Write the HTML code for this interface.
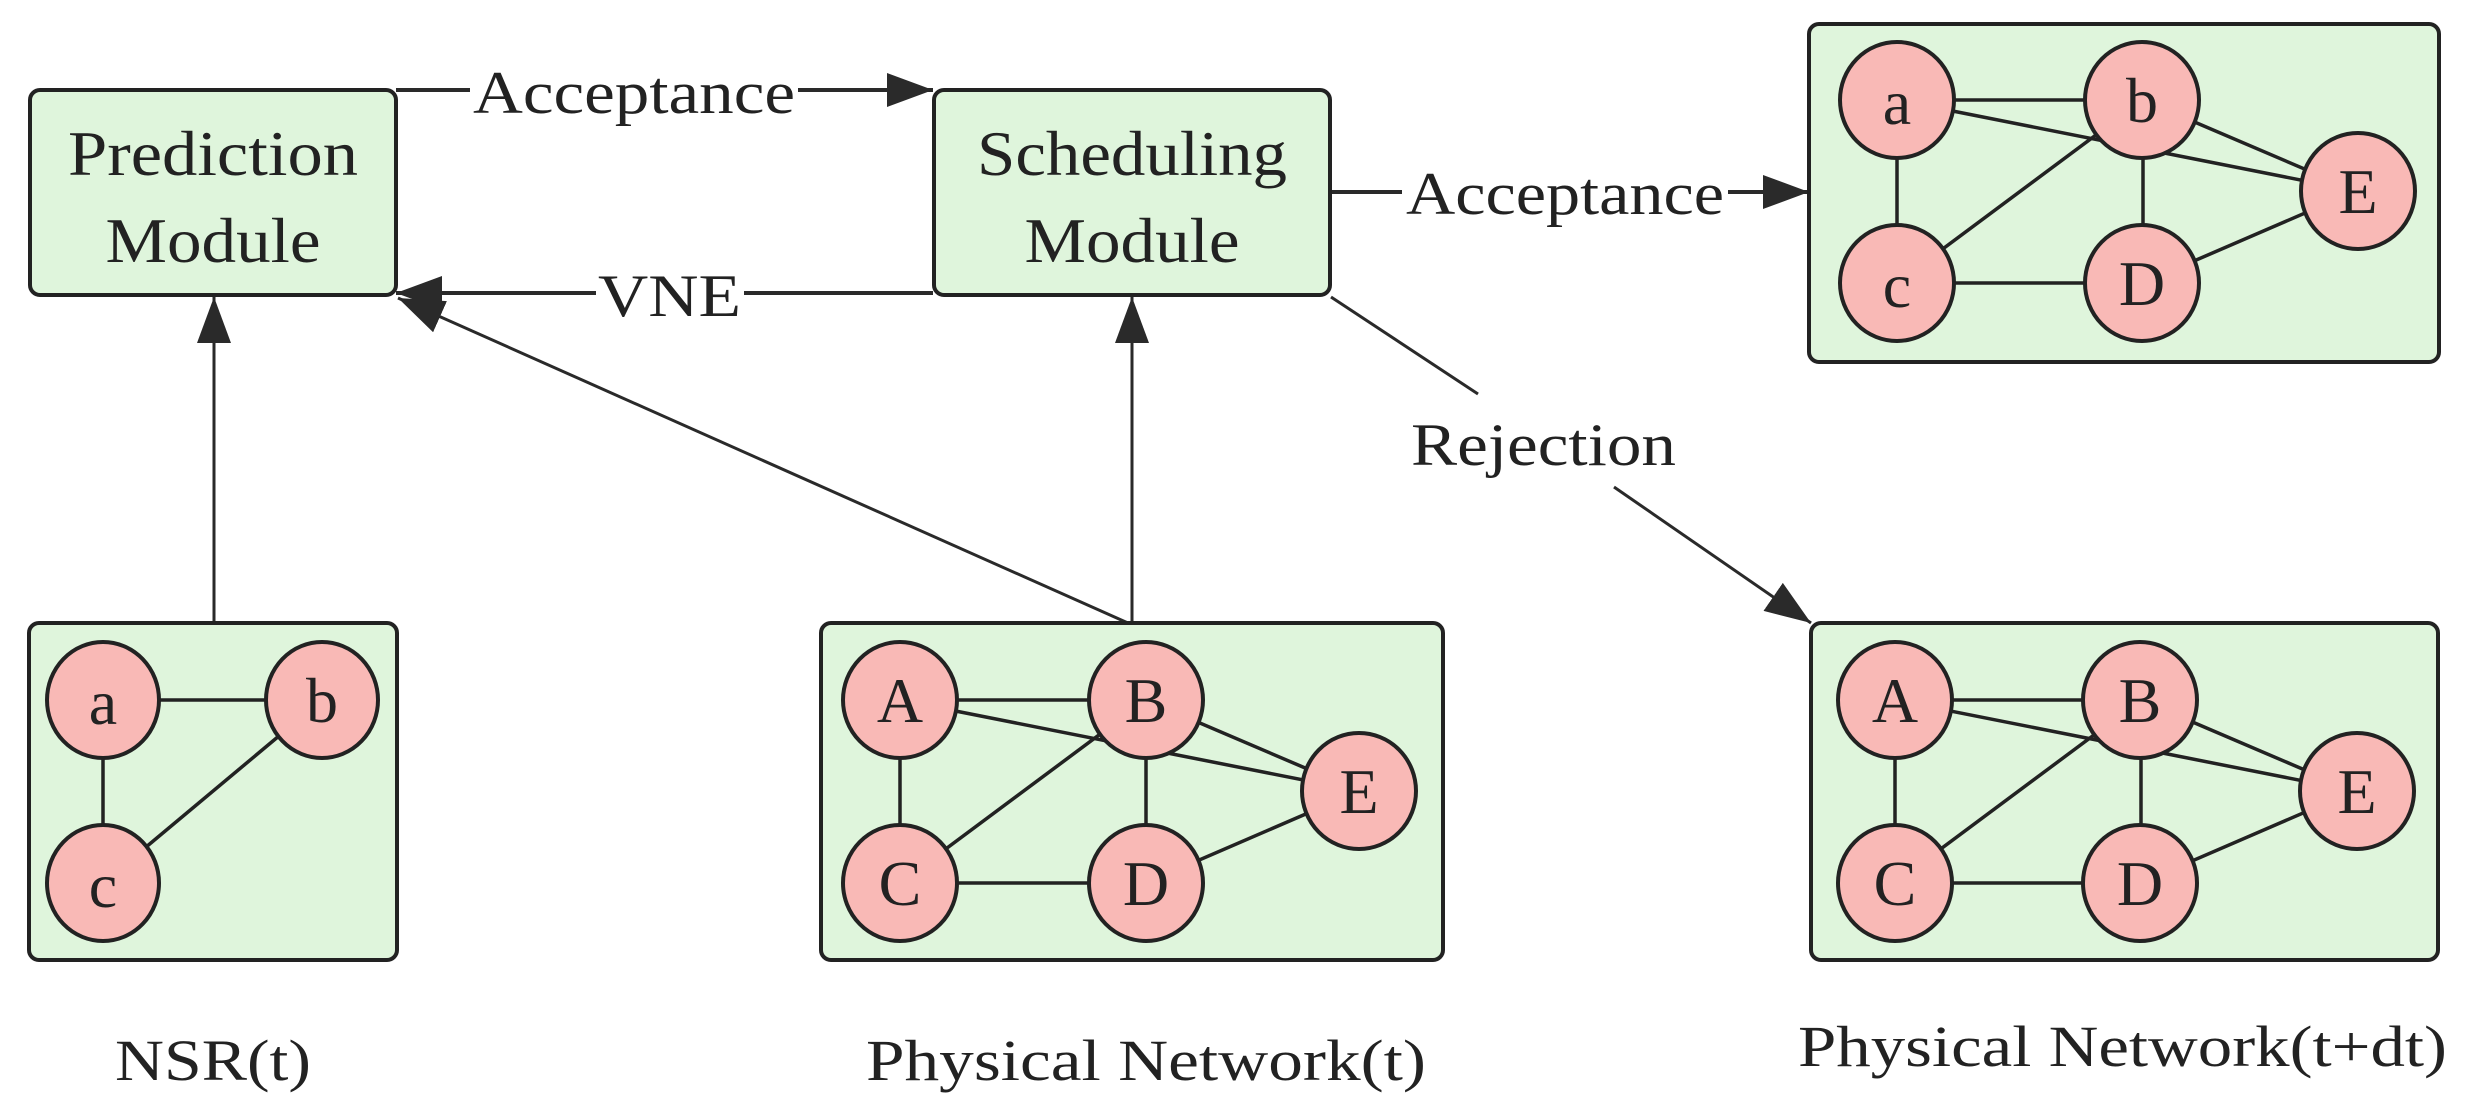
<!DOCTYPE html>
<html><head><style>body{margin:0;background:#fff}svg{display:block}</style></head><body>
<svg width="2465" height="1111" viewBox="0 0 2465 1111" xmlns="http://www.w3.org/2000/svg" font-family="'Liberation Serif', serif" style="font-family:'Liberation Serif', serif" fill="#222">
<defs>
<marker id="ab" viewBox="0 0 10 10" refX="10" refY="5" markerWidth="46" markerHeight="34" orient="auto" markerUnits="userSpaceOnUse" preserveAspectRatio="none"><path d="M0,0 L10,5 L0,10 z" fill="#2a2a2a"/></marker></defs>
<g stroke="#2a2a2a" stroke-width="4" fill="none">
<line x1="396" y1="90" x2="933" y2="90" marker-end="url(#ab)"/>
<line x1="933" y1="293" x2="396" y2="293" marker-end="url(#ab)"/>
<line x1="1128" y1="623" x2="398" y2="298" marker-end="url(#ab)" stroke-width="3"/>
<line x1="214" y1="623" x2="214" y2="297" marker-end="url(#ab)" stroke-width="3"/>
<line x1="1132" y1="623" x2="1132" y2="297" marker-end="url(#ab)" stroke-width="3"/>
<line x1="1331" y1="192" x2="1809" y2="192" marker-end="url(#ab)"/>
<line x1="1331" y1="297" x2="1478" y2="394" stroke-width="3"/>
<line x1="1614" y1="487" x2="1811" y2="623" marker-end="url(#ab)" stroke-width="3"/>
</g>
<rect x="470" y="66" width="328" height="48" fill="#fff"/>
<rect x="596" y="270" width="148" height="48" fill="#fff"/>
<rect x="1402" y="168" width="326" height="48" fill="#fff"/>
<text x="473" y="113" font-size="60" textLength="322" lengthAdjust="spacingAndGlyphs">Acceptance</text>
<text x="598" y="316" font-size="60" textLength="143" lengthAdjust="spacingAndGlyphs">VNE</text>
<text x="1406" y="214" font-size="60" textLength="318" lengthAdjust="spacingAndGlyphs">Acceptance</text>
<text x="1411" y="465" font-size="60" textLength="265" lengthAdjust="spacingAndGlyphs">Rejection</text>
<g stroke="#222" stroke-width="4" fill="#dff5dc">
<rect x="30" y="90" width="366" height="205" rx="10"/>
<rect x="934" y="90" width="396" height="205" rx="10"/>
<rect x="29" y="623" width="368" height="337" rx="10"/>
<rect x="821" y="623" width="622" height="337" rx="10"/>
<rect x="1809" y="24" width="630" height="338" rx="10"/>
<rect x="1811" y="623" width="627" height="337" rx="10"/>
</g>
<g font-size="64" text-anchor="middle">
<text x="213" y="175" textLength="290" lengthAdjust="spacingAndGlyphs">Prediction</text>
<text x="213" y="262" textLength="215" lengthAdjust="spacingAndGlyphs">Module</text>
<text x="1132" y="175" textLength="310" lengthAdjust="spacingAndGlyphs">Scheduling</text>
<text x="1132" y="262" textLength="215" lengthAdjust="spacingAndGlyphs">Module</text>
</g>
<g stroke="#222" stroke-width="3.5">
<line x1="103" y1="700" x2="322" y2="700"/><line x1="103" y1="700" x2="103" y2="883"/><line x1="103" y1="883" x2="322" y2="700"/>
<g id="pn">
<line x1="900" y1="700" x2="1146" y2="700"/><line x1="900" y1="700" x2="900" y2="883"/><line x1="900" y1="883" x2="1146" y2="883"/>
<line x1="1146" y1="700" x2="1146" y2="883"/><line x1="900" y1="883" x2="1146" y2="700"/><line x1="900" y1="700" x2="1359" y2="791"/>
<line x1="1146" y1="700" x2="1359" y2="791"/><line x1="1146" y1="883" x2="1359" y2="791"/>
</g>
<use href="#pn" transform="translate(995,0)"/>
<use href="#pn" transform="translate(997,-600)"/>
</g>
<g stroke="#222" stroke-width="4" fill="#f9b9b6">
<ellipse cx="103" cy="700" rx="56" ry="58"/><ellipse cx="322" cy="700" rx="56" ry="58"/><ellipse cx="103" cy="883" rx="56" ry="58"/>
<ellipse cx="900" cy="700" rx="57" ry="58"/><ellipse cx="1146" cy="700" rx="57" ry="58"/><ellipse cx="900" cy="883" rx="57" ry="58"/><ellipse cx="1146" cy="883" rx="57" ry="58"/><ellipse cx="1359" cy="791" rx="57" ry="58"/>
<ellipse cx="1895" cy="700" rx="57" ry="58"/><ellipse cx="2140" cy="700" rx="57" ry="58"/><ellipse cx="1895" cy="883" rx="57" ry="58"/><ellipse cx="2140" cy="883" rx="57" ry="58"/><ellipse cx="2357" cy="791" rx="57" ry="58"/>
<ellipse cx="1897" cy="100" rx="57" ry="58"/><ellipse cx="2142" cy="100" rx="57" ry="58"/><ellipse cx="1897" cy="283" rx="57" ry="58"/><ellipse cx="2142" cy="283" rx="57" ry="58"/><ellipse cx="2358" cy="191" rx="57" ry="58"/>
</g>
<g font-size="64" text-anchor="middle">
<text x="103" y="724">a</text><text x="322" y="722">b</text><text x="103" y="907">c</text>
<text x="900" y="722">A</text><text x="1146" y="722">B</text><text x="900" y="905">C</text><text x="1146" y="905">D</text><text x="1359" y="813">E</text>
<text x="1895" y="722">A</text><text x="2140" y="722">B</text><text x="1895" y="905">C</text><text x="2140" y="905">D</text><text x="2357" y="813">E</text>
<text x="1897" y="124">a</text><text x="2142" y="122">b</text><text x="1897" y="307">c</text><text x="2142" y="305">D</text><text x="2358" y="213">E</text>
</g>
<g font-size="58">
<text x="115" y="1080" textLength="196" lengthAdjust="spacingAndGlyphs">NSR(t)</text>
<text x="866" y="1080" textLength="560" lengthAdjust="spacingAndGlyphs">Physical Network(t)</text>
<text x="1798" y="1066" textLength="649" lengthAdjust="spacingAndGlyphs">Physical Network(t+dt)</text>
</g>
</svg>
</body></html>
